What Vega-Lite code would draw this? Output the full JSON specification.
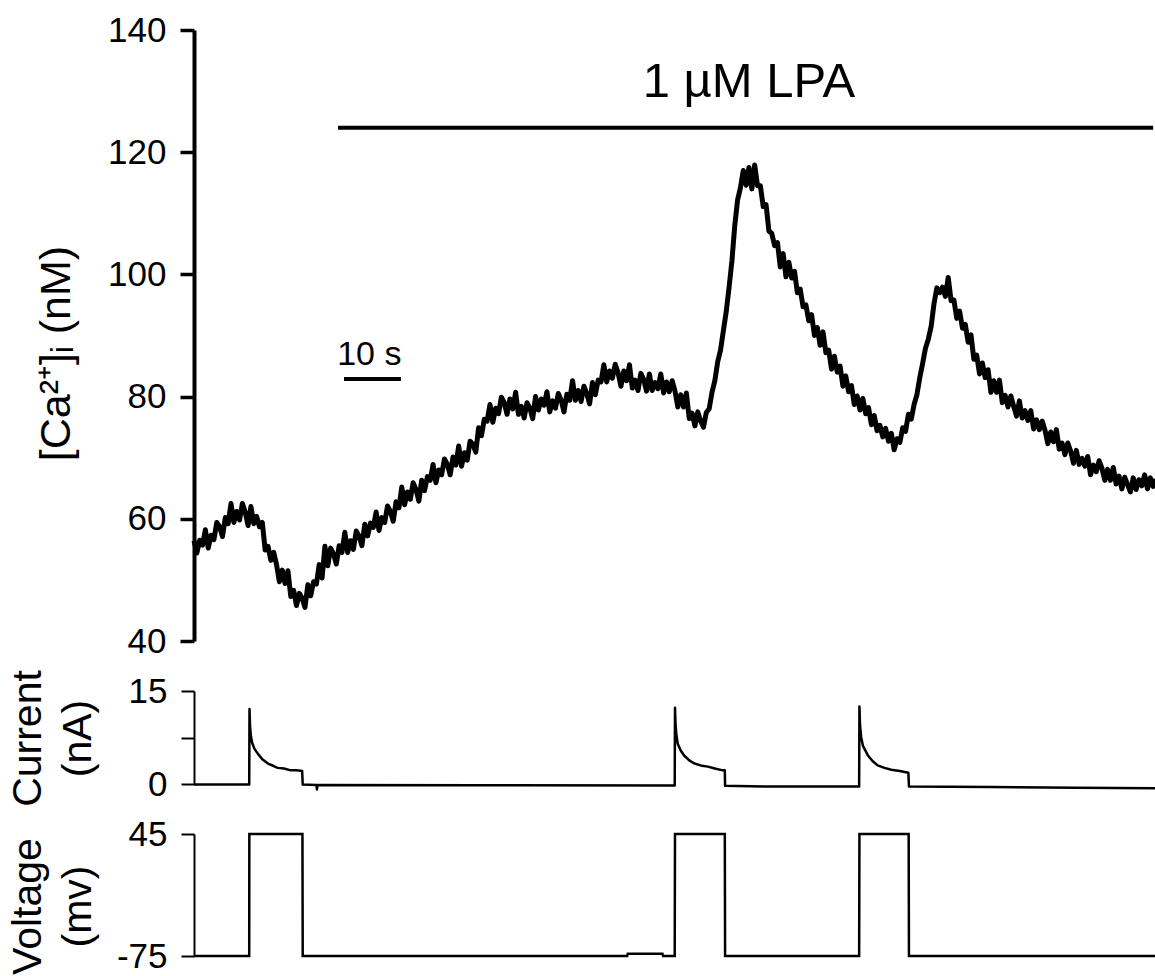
{
"$schema": "https://vega.github.io/schema/vega-lite/v6.json",
"padding": {"left": 7, "top": 13, "right": 0, "bottom": 0},
"spacing": 50,
"bounds": "flush",
"config": {"view": {"stroke": null}, "font": "Liberation Sans",
  "axis": {"grid": false, "domainColor": "#000", "tickColor": "#000", "labelColor": "#000", "titleColor": "#000", "labelFont": "Liberation Sans", "titleFont": "Liberation Sans", "titleFontWeight": "normal", "labelFontSize": 35}},
"datasets": {
"ca": [
{"t":0,"ca":56.4},{"t":0.5,"ca":54.4},{"t":1,"ca":56.5},{"t":1.5,"ca":55.7},{"t":2,"ca":58.2},{"t":2.5,"ca":55.2},{"t":3,"ca":57.3},{"t":3.5,"ca":56.6},{"t":4,"ca":59.4},{"t":4.5,"ca":58.7},
{"t":5,"ca":57.1},{"t":5.5,"ca":60.2},{"t":6,"ca":59.2},{"t":6.5,"ca":62.5},{"t":7,"ca":59.4},{"t":7.5,"ca":61.2},{"t":8,"ca":59.8},{"t":8.5,"ca":62.5},{"t":9,"ca":61.1},{"t":9.5,"ca":58.9},
{"t":10,"ca":62.0},{"t":10.5,"ca":59.2},{"t":11,"ca":60.4},{"t":11.5,"ca":58.7},{"t":12,"ca":59.4},{"t":12.5,"ca":54.9},{"t":13,"ca":55.5},{"t":13.5,"ca":53.2},{"t":14,"ca":54.5},{"t":14.5,"ca":52.5},
{"t":15,"ca":49.7},{"t":15.5,"ca":51.6},{"t":16,"ca":49.4},{"t":16.5,"ca":51.5},{"t":17,"ca":47.3},{"t":17.5,"ca":48.3},{"t":18,"ca":45.8},{"t":18.5,"ca":47.8},{"t":19,"ca":47.0},{"t":19.5,"ca":45.5},
{"t":20,"ca":49.2},{"t":20.5,"ca":47.4},{"t":21,"ca":49.7},{"t":21.5,"ca":49.3},{"t":22,"ca":52.5},{"t":22.5,"ca":50.3},{"t":23,"ca":55.5},{"t":23.5,"ca":52.3},{"t":24,"ca":55.2},{"t":24.5,"ca":54.3},
{"t":25,"ca":52.6},{"t":25.5,"ca":55.6},{"t":26,"ca":54.5},{"t":26.5,"ca":57.8},{"t":27,"ca":54.5},{"t":27.5,"ca":56.4},{"t":28,"ca":55.0},{"t":28.5,"ca":58.0},{"t":29,"ca":57.2},{"t":29.5,"ca":55.6},
{"t":30,"ca":59.1},{"t":30.5,"ca":57.2},{"t":31,"ca":59.3},{"t":31.5,"ca":58.6},{"t":32,"ca":61.1},{"t":32.5,"ca":58.1},{"t":33,"ca":60.2},{"t":33.5,"ca":59.4},{"t":34,"ca":62.1},{"t":34.5,"ca":61.2},
{"t":35,"ca":59.6},{"t":35.5,"ca":62.8},{"t":36,"ca":61.8},{"t":36.5,"ca":65.2},{"t":37,"ca":62.3},{"t":37.5,"ca":64.4},{"t":38,"ca":63.2},{"t":38.5,"ca":65.9},{"t":39,"ca":64.8},{"t":39.5,"ca":62.9},
{"t":40,"ca":66.3},{"t":40.5,"ca":64.6},{"t":41,"ca":66.9},{"t":41.5,"ca":66.3},{"t":42,"ca":68.9},{"t":42.5,"ca":65.9},{"t":43,"ca":68.0},{"t":43.5,"ca":67.2},{"t":44,"ca":69.8},{"t":44.5,"ca":68.9},
{"t":45,"ca":67.2},{"t":45.5,"ca":70.1},{"t":46,"ca":68.8},{"t":46.5,"ca":71.9},{"t":47,"ca":68.6},{"t":47.5,"ca":70.8},{"t":48,"ca":69.6},{"t":48.5,"ca":72.7},{"t":49,"ca":72.2},{"t":49.5,"ca":70.9},
{"t":50,"ca":74.9},{"t":50.5,"ca":73.6},{"t":51,"ca":76.3},{"t":51.5,"ca":76.0},{"t":52,"ca":78.7},{"t":52.5,"ca":75.8},{"t":53,"ca":78.1},{"t":53.5,"ca":77.2},{"t":54,"ca":79.9},{"t":54.5,"ca":79.0},
{"t":55,"ca":77.1},{"t":55.5,"ca":79.6},{"t":56,"ca":78.0},{"t":56.5,"ca":80.7},{"t":57,"ca":77.1},{"t":57.5,"ca":78.4},{"t":58,"ca":76.5},{"t":58.5,"ca":79.0},{"t":59,"ca":78.1},{"t":59.5,"ca":76.4},
{"t":60,"ca":80.0},{"t":60.5,"ca":77.8},{"t":61,"ca":79.6},{"t":61.5,"ca":78.6},{"t":62,"ca":80.8},{"t":62.5,"ca":77.5},{"t":63,"ca":79.3},{"t":63.5,"ca":78.1},{"t":64,"ca":80.5},{"t":64.5,"ca":79.4},
{"t":65,"ca":77.5},{"t":65.5,"ca":80.4},{"t":66,"ca":79.4},{"t":66.5,"ca":82.6},{"t":67,"ca":79.4},{"t":67.5,"ca":81.0},{"t":68,"ca":79.2},{"t":68.5,"ca":81.7},{"t":69,"ca":80.5},{"t":69.5,"ca":78.8},
{"t":70,"ca":82.3},{"t":70.5,"ca":80.3},{"t":71,"ca":82.7},{"t":71.5,"ca":82.4},{"t":72,"ca":85.2},{"t":72.5,"ca":82.4},{"t":73,"ca":84.2},{"t":73.5,"ca":83.0},{"t":74,"ca":85.3},{"t":74.5,"ca":83.9},
{"t":75,"ca":81.7},{"t":75.5,"ca":84.2},{"t":76,"ca":82.6},{"t":76.5,"ca":85.2},{"t":77,"ca":81.4},{"t":77.5,"ca":82.7},{"t":78,"ca":81.0},{"t":78.5,"ca":83.8},{"t":79,"ca":82.8},{"t":79.5,"ca":80.9},
{"t":80,"ca":83.7},{"t":80.5,"ca":81.0},{"t":81,"ca":82.3},{"t":81.5,"ca":81.3},{"t":82,"ca":83.7},{"t":82.5,"ca":80.6},{"t":83,"ca":82.4},{"t":83.5,"ca":80.8},{"t":84,"ca":82.6},{"t":84.5,"ca":80.9},
{"t":85,"ca":78.3},{"t":85.5,"ca":80.3},{"t":86,"ca":78.3},{"t":86.5,"ca":80.6},{"t":87,"ca":76.4},{"t":87.5,"ca":77.3},{"t":88,"ca":75.2},{"t":88.5,"ca":77.5},{"t":89,"ca":76.0},{"t":89.5,"ca":75.0},
{"t":90,"ca":77.4},{"t":90.5,"ca":78.0},{"t":91,"ca":80.7},{"t":91.5,"ca":82.6},{"t":92,"ca":85.7},{"t":92.5,"ca":87.6},{"t":93,"ca":90.8},{"t":93.5,"ca":93.9},{"t":94,"ca":97.9},{"t":94.5,"ca":102.2},
{"t":95,"ca":108.0},{"t":95.5,"ca":112.2},{"t":96,"ca":114.2},{"t":96.5,"ca":117.0},{"t":97,"ca":114.6},{"t":97.5,"ca":117.5},{"t":98,"ca":114.0},{"t":98.5,"ca":117.9},{"t":99,"ca":114.5},{"t":99.5,"ca":114.5},
{"t":100,"ca":111.1},{"t":100.5,"ca":111.4},{"t":101,"ca":107.1},{"t":101.5,"ca":106.7},{"t":102,"ca":104.7},{"t":102.5,"ca":105.2},{"t":103,"ca":101.2},{"t":103.5,"ca":103.4},{"t":104,"ca":99.6},{"t":104.5,"ca":102.0},
{"t":105,"ca":99.4},{"t":105.5,"ca":100.5},{"t":106,"ca":97.0},{"t":106.5,"ca":97.6},{"t":107,"ca":94.7},{"t":107.5,"ca":95.0},{"t":108,"ca":92.4},{"t":108.5,"ca":93.4},{"t":109,"ca":90.0},{"t":109.5,"ca":91.3},
{"t":110,"ca":88.4},{"t":110.5,"ca":90.6},{"t":111,"ca":87.2},{"t":111.5,"ca":87.6},{"t":112,"ca":84.5},{"t":112.5,"ca":86.6},{"t":113,"ca":84.0},{"t":113.5,"ca":85.0},{"t":114,"ca":81.7},{"t":114.5,"ca":83.4},
{"t":115,"ca":80.8},{"t":115.5,"ca":81.8},{"t":116,"ca":78.7},{"t":116.5,"ca":80.1},{"t":117,"ca":77.8},{"t":117.5,"ca":79.7},{"t":118,"ca":77.2},{"t":118.5,"ca":78.2},{"t":119,"ca":75.4},{"t":119.5,"ca":76.9},
{"t":120,"ca":74.4},{"t":120.5,"ca":75.3},{"t":121,"ca":73.4},{"t":121.5,"ca":74.8},{"t":122,"ca":72.7},{"t":122.5,"ca":74.0},{"t":123,"ca":71.3},{"t":123.5,"ca":73.1},{"t":124,"ca":72.5},{"t":124.5,"ca":74.9},
{"t":125,"ca":74.3},{"t":125.5,"ca":77.1},{"t":126,"ca":76.3},{"t":126.5,"ca":78.7},{"t":127,"ca":80.3},{"t":127.5,"ca":83.1},{"t":128,"ca":85.4},{"t":128.5,"ca":87.9},{"t":129,"ca":89.4},{"t":129.5,"ca":91.5},
{"t":130,"ca":95.2},{"t":130.5,"ca":97.8},{"t":131,"ca":97.0},{"t":131.5,"ca":97.9},{"t":132,"ca":96.4},{"t":132.5,"ca":99.5},{"t":133,"ca":95.7},{"t":133.5,"ca":95.8},{"t":134,"ca":92.8},{"t":134.5,"ca":94.0},
{"t":135,"ca":91.2},{"t":135.5,"ca":91.8},{"t":136,"ca":88.9},{"t":136.5,"ca":90.1},{"t":137,"ca":86.1},{"t":137.5,"ca":86.8},{"t":138,"ca":83.7},{"t":138.5,"ca":85.5},{"t":139,"ca":83.1},{"t":139.5,"ca":84.4},
{"t":140,"ca":80.7},{"t":140.5,"ca":82.6},{"t":141,"ca":80.7},{"t":141.5,"ca":82.7},{"t":142,"ca":79.0},{"t":142.5,"ca":80.2},{"t":143,"ca":78.3},{"t":143.5,"ca":80.1},{"t":144,"ca":78.4},{"t":144.5,"ca":76.8},
{"t":145,"ca":79.3},{"t":145.5,"ca":76.5},{"t":146,"ca":77.7},{"t":146.5,"ca":76.1},{"t":147,"ca":77.7},{"t":147.5,"ca":74.7},{"t":148,"ca":76.2},{"t":148.5,"ca":74.6},{"t":149,"ca":76.0},{"t":149.5,"ca":74.5},
{"t":150,"ca":72.3},{"t":150.5,"ca":74.2},{"t":151,"ca":72.6},{"t":151.5,"ca":74.6},{"t":152,"ca":71.4},{"t":152.5,"ca":72.4},{"t":153,"ca":70.5},{"t":153.5,"ca":72.4},{"t":154,"ca":71.1},{"t":154.5,"ca":69.1},
{"t":155,"ca":71.2},{"t":155.5,"ca":68.9},{"t":156,"ca":69.9},{"t":156.5,"ca":68.6},{"t":157,"ca":70.2},{"t":157.5,"ca":67.2},{"t":158,"ca":68.8},{"t":158.5,"ca":67.7},{"t":159,"ca":69.5},{"t":159.5,"ca":68.3},
{"t":160,"ca":66.3},{"t":160.5,"ca":68.1},{"t":161,"ca":66.3},{"t":161.5,"ca":68.4},{"t":162,"ca":65.7},{"t":162.5,"ca":67.0},{"t":163,"ca":64.9},{"t":163.5,"ca":66.8},{"t":164,"ca":65.6},{"t":164.5,"ca":64.4},
{"t":165,"ca":66.7},{"t":165.5,"ca":64.8},{"t":166,"ca":66.4},{"t":166.5,"ca":65.4},{"t":167,"ca":67.2},{"t":167.5,"ca":64.9},{"t":168,"ca":66.7},{"t":168.5,"ca":65.3},{"t":169,"ca":66.5}
],
"cur": [
{"t":0,"i":-0.1},{"t":5,"i":-0.1},{"t":9.7,"i":-0.1},{"t":9.75,"i":12.1},{"t":9.85,"i":9.2},{"t":10.0,"i":7.7},{"t":10.2,"i":6.7},{"t":10.6,"i":5.7},{"t":11.2,"i":4.9},{"t":12.0,"i":4.0},{"t":13.0,"i":3.3},{"t":14.0,"i":2.9},{"t":14.7,"i":2.6},{"t":15.8,"i":2.5},{"t":17.0,"i":2.2},{"t":18.0,"i":2.2},{"t":19.0,"i":2.1},{"t":19.1,"i":-0.1},{"t":21.5,"i":-0.15},{"t":21.6,"i":-0.9},{"t":21.7,"i":-0.15},{"t":50,"i":-0.2},{"t":84.45,"i":-0.25},{"t":84.5,"i":12.3},{"t":84.6,"i":9.6},{"t":84.75,"i":7.9},{"t":84.98,"i":6.5},{"t":85.5,"i":5.4},{"t":86.1,"i":4.6},{"t":87.0,"i":3.8},{"t":87.9,"i":3.3},{"t":89.0,"i":3.0},{"t":90.25,"i":2.8},{"t":91.5,"i":2.5},{"t":92.9,"i":2.2},{"t":93.25,"i":2.2},{"t":93.3,"i":-0.3},{"t":100,"i":-0.4},{"t":116.85,"i":-0.4},{"t":116.9,"i":12.5},{"t":117.0,"i":9.6},{"t":117.2,"i":7.6},{"t":117.5,"i":6.2},{"t":118.4,"i":4.6},{"t":119.2,"i":3.7},{"t":120.1,"i":3.0},{"t":121.3,"i":2.6},{"t":122.5,"i":2.3},{"t":124.0,"i":2.1},{"t":125.5,"i":1.8},{"t":125.6,"i":-0.4},{"t":140,"i":-0.5},{"t":155,"i":-0.6},{"t":169,"i":-0.7}
],
"volt": [
{"t":0,"v":-75},{"t":9.7,"v":-75},{"t":9.72,"v":45},{"t":19.05,"v":45},{"t":19.1,"v":-75},{"t":76.1,"v":-75},{"t":76.2,"v":-72.7},{"t":82.3,"v":-72.7},{"t":82.4,"v":-75},{"t":84.45,"v":-75},{"t":84.5,"v":45},{"t":93.25,"v":45},{"t":93.3,"v":-75},{"t":116.85,"v":-75},{"t":116.9,"v":45},{"t":125.55,"v":45},{"t":125.6,"v":-75},{"t":169,"v":-75}
]
},
"vconcat": [
{
"width": 962, "height": 611,
"layer": [
{"data": {"name": "ca"}, "mark": {"type": "line", "color": "#000", "strokeWidth": 5, "strokeJoin": "round"},
 "encoding": {
  "x": {"field": "t", "type": "quantitative", "scale": {"domain": [0, 169], "nice": false}, "axis": null},
  "y": {"field": "ca", "type": "quantitative", "scale": {"domain": [40, 140], "nice": false, "zero": false},
   "axis": {"values": [40, 60, 80, 100, 120, 140], "tickSize": 14, "tickWidth": 3.5, "domainWidth": 4, "labelPadding": 14, "title": "[Ca²⁺]ᵢ (nM)", "titleFontSize": 43, "titlePadding": 29, "titleY": 323}}
 }},
{"data": {"values": [{"t1": 25.3, "t2": 168.5, "y": 124.0}, {"t1": 26.35, "t2": 36.35, "y": 82.9}]},
 "mark": {"type": "rule", "color": "#000", "strokeWidth": 4},
 "encoding": {"x": {"field": "t1", "type": "quantitative"}, "x2": {"field": "t2"}, "y": {"field": "y", "type": "quantitative"}}},
{"data": {"values": [{"t": 97.5, "y": 129.0, "label": "1 µM LPA"}]},
 "mark": {"type": "text", "color": "#000", "font": "Liberation Sans", "fontSize": 49, "align": "center", "baseline": "alphabetic"},
 "encoding": {"x": {"field": "t", "type": "quantitative"}, "y": {"field": "y", "type": "quantitative"}, "text": {"field": "label"}}},
{"data": {"values": [{"t": 30.8, "y": 85.2, "label": "10 s"}]},
 "mark": {"type": "text", "color": "#000", "font": "Liberation Sans", "fontSize": 34, "align": "center", "baseline": "alphabetic"},
 "encoding": {"x": {"field": "t", "type": "quantitative"}, "y": {"field": "y", "type": "quantitative"}, "text": {"field": "label"}}}
]
},
{
"width": 962, "height": 93,
"data": {"name": "cur"},
"mark": {"type": "line", "color": "#000", "strokeWidth": 2.5, "strokeJoin": "round"},
"encoding": {
 "x": {"field": "t", "type": "quantitative", "scale": {"domain": [0, 169], "nice": false}, "axis": null},
 "y": {"field": "i", "type": "quantitative", "scale": {"domain": [0, 15], "nice": false},
  "axis": {"values": [0, 7.5, 15], "labelExpr": "datum.value == 7.5 ? '' : datum.label", "tickSize": 13, "tickWidth": 2, "domainWidth": 2, "labelPadding": 14, "title": ["Current", "(nA)"], "titleFontSize": 41, "titleLineHeight": 50, "titlePadding": 29, "titleY": 47}}
}
},
{
"width": 962, "height": 122,
"data": {"name": "volt"},
"mark": {"type": "line", "color": "#000", "strokeWidth": 2.5, "strokeJoin": "miter"},
"encoding": {
 "x": {"field": "t", "type": "quantitative", "scale": {"domain": [0, 169], "nice": false}, "axis": null},
 "y": {"field": "v", "type": "quantitative", "scale": {"domain": [-75, 45], "nice": false, "zero": false},
  "axis": {"values": [-75, 45], "labelExpr": "datum.value < 0 ? '-75' : datum.label", "tickSize": 13, "tickWidth": 2, "domainWidth": 2, "labelPadding": 14, "title": ["Voltage", "(mv)"], "titleFontSize": 41, "titleLineHeight": 50, "titlePadding": 17, "titleY": 72}}
}
}
]
}
